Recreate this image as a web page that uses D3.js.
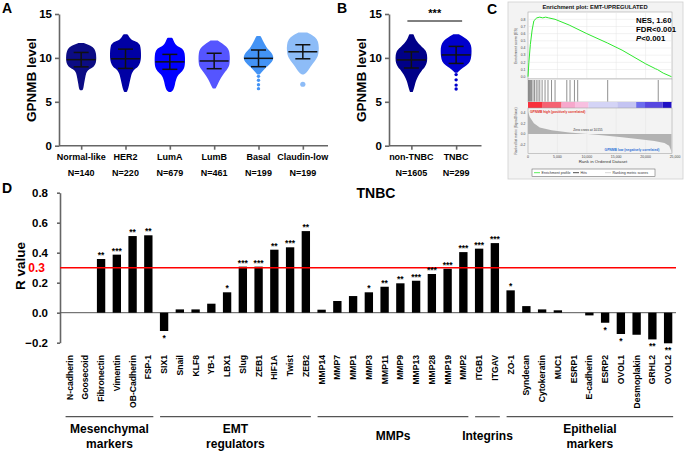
<!DOCTYPE html>
<html>
<head>
<meta charset="utf-8">
<script src="https://cdn.jsdelivr.net/npm/d3@7"></script>
<style>
body { margin: 0; background: #fff; }
svg { display: block; font-family: "Liberation Sans", Arial, Helvetica, sans-serif; }
</style>
</head>
<body>
<svg id="fig" width="685" height="454"></svg>
<script>
// ---- panel A: GPNMB by PAM50 subtype ----
var subtypes = ["Normal-like", "HER2", "LumA", "LumB", "Basal", "Claudin-low"];
var subtypeN = [140, 220, 679, 461, 199, 199];
var subtypeMean = [9.8, 9.9, 9.55, 9.65, 9.95, 10.7];
var subtypeSD = [0.82, 1.1, 0.85, 0.88, 0.95, 0.8];
// [GPNMB level, relative density]
var subtypeProfiles = [
    [[11.6,0.15],[11.3,0.6],[11.0,0.8],[10.5,0.88],[10.0,0.9],[9.5,0.88],[9.1,0.8],[8.8,0.5],[8.5,0.3],[8.0,0.22],[7.5,0.18],[7.0,0.12],[6.6,0.1],[6.4,0.05]],
    [[12.6,0.1],[12.3,0.2],[12.0,0.3],[11.7,0.8],[11.2,0.9],[10.5,0.92],[10.0,0.92],[9.5,0.88],[9.0,0.75],[8.7,0.45],[8.2,0.33],[7.6,0.25],[7.0,0.18],[6.5,0.12],[6.2,0.05]],
    [[12.2,0.12],[11.8,0.22],[11.3,0.35],[11.0,0.8],[10.5,0.88],[10.0,0.9],[9.5,0.9],[9.0,0.88],[8.5,0.75],[8.2,0.5],[7.8,0.38],[7.3,0.3],[6.8,0.25],[6.4,0.18],[6.2,0.05]],
    [[11.9,0.2],[11.6,0.45],[11.2,0.75],[10.8,0.9],[10.2,0.93],[9.5,0.93],[9.0,0.88],[8.6,0.7],[8.1,0.5],[7.6,0.32],[7.2,0.22],[6.8,0.12],[6.6,0.05]],
    [[12.4,0.1],[12.0,0.2],[11.5,0.35],[11.0,0.5],[10.6,0.75],[10.2,0.88],[9.8,0.88],[9.4,0.7],[9.0,0.45],[8.7,0.3],[8.4,0.15],[8.2,0.05]],
    [[12.8,0.25],[12.5,0.6],[12.1,0.85],[11.5,0.95],[10.8,0.95],[10.2,0.9],[9.7,0.72],[9.2,0.5],[8.8,0.35],[8.4,0.2],[8.2,0.05]]
];
var subtypeOutliers = [[], [], [], [], [7.9, 7.45, 6.95, 6.5], [7.0]];
var subtypeColors = ["#0c0c84", "#0000a4", "#0000ff", "#5555ff", "#4393f5", "#8dbcf7"];

// ---- panel B: non-TNBC vs TNBC ----
var tnbcGroups = ["non-TNBC", "TNBC"];
var tnbcN = [1605, 299];
var tnbcMean = [9.77, 10.34];
var tnbcSD = [0.92, 0.97];
var tnbcProfiles = [
    [[12.6,0.1],[12.2,0.18],[11.8,0.3],[11.4,0.5],[11.0,0.75],[10.6,0.92],[10.0,0.95],[9.4,0.92],[9.0,0.8],[8.6,0.6],[8.2,0.45],[7.7,0.3],[7.2,0.2],[6.7,0.14],[6.2,0.05]],
    [[12.6,0.15],[12.3,0.45],[11.9,0.75],[11.4,0.9],[10.8,0.92],[10.2,0.9],[9.6,0.85],[9.2,0.6],[8.9,0.35],[8.6,0.15],[8.4,0.05]]
];
var tnbcOutliers = [[], [8.1, 7.5, 6.9, 6.45]];
var tnbcColors = ["#000088", "#0000cc"];

// ---- panel C: GSEA ----
var esCurve = [[0,0],[150,0.2],[400,0.45],[700,0.65],[1000,0.78],[1500,0.82],[2000,0.83],[2500,0.82],[3000,0.83],[3500,0.82],[4600,0.8],[7000,0.72],[10000,0.6],[13500,0.47],[16000,0.37],[20000,0.18],[21700,0.11],[22000,0.1],[23000,0.05],[24400,0]];
var hitRanks = [100, 250, 420, 600, 850, 1100, 1400, 1700, 2000, 2400, 2900, 3400, 4000, 4600, 6600, 7150, 7900, 8450, 13550, 22150];
var metricCurve = [[0,0.42],[300,0.32],[1000,0.2],[2000,0.12],[4000,0.07],[7000,0.03],[10155,0],[13000,-0.03],[16000,-0.06],[19000,-0.1],[21500,-0.13],[23200,-0.17],[24000,-0.22],[24300,-0.3],[24400,-0.36]];
var barEdges = [0, 2500, 5700, 8000, 10300, 15200, 18400, 19900, 22900, 24400];
var barColors = ["#f8303c", "#f56272", "#f7a8cc", "#f8c0e0", "#d4d4f6", "#c4c4f2", "#6c6cee", "#5848e0", "#2010c4"];
var rankTicks = [0, 5000, 10000, 15000, 20000, 25000];
var esTicks = [0, 0.1, 0.2, 0.3, 0.4, 0.5, 0.6, 0.7, 0.8];
var metricTicks = [0.4, 0.2, 0, -0.2];

// ---- panel D: correlation with EMT genes in TNBC ----
var genes = ["N-cadherin","Goosecoid","Fibronectin","Vimentin","OB-Cadherin","FSP-1",
    "SIX1","Snail","KLF8","YB-1","LBX1","Slug","ZEB1","HIF1A","Twist","ZEB2",
    "MMP14","MMP7","MMP1","MMP3","MMP11","MMP9","MMP13","MMP28","MMP19","MMP2",
    "ITGB1","ITGAV",
    "ZO-1","Syndecan","Cytokeratin","MUC1","ESRP1","E-cadherin","ESRP2","OVOL1","Desmoplakin","GRHL2","OVOL2"];
var rValues = [0, 0, 0.358, 0.387, 0.511, 0.516,
    -0.122, 0.022, 0.022, 0.06, 0.136, 0.307, 0.307, 0.42, 0.436, 0.544,
    0.02, 0.078, 0.111, 0.136, 0.173, 0.196, 0.213, 0.258, 0.293, 0.404,
    0.427, 0.464,
    0.149, 0.044, 0.022, 0.016, 0, -0.018, -0.067, -0.142, -0.147, -0.178, -0.204];
var stars = ["", "", "**", "***", "**", "**",
    "*", "", "", "", "*", "***", "***", "**", "***", "**",
    "", "", "", "*", "**", "**", "***", "***", "***", "***",
    "***", "***",
    "*", "", "", "", "", "", "*", "*", "", "**", "**"];
var geneGroups = [
    {lines: ["Mesenchymal", "markers"], first: "N-cadherin", last: "FSP-1"},
    {lines: ["EMT", "regulators"], first: "SIX1", last: "ZEB2"},
    {lines: ["MMPs"], first: "MMP14", last: "MMP2"},
    {lines: ["Integrins"], first: "ITGB1", last: "ITGAV"},
    {lines: ["Epithelial", "markers"], first: "ZO-1", last: "OVOL2"}
];
var rTicks = [-0.2, 0, 0.2, 0.4, 0.6, 0.8];
var threshold = 0.3;

var svg = d3.select("#fig");
var axisGrey = "#666";

function panelLetter(txt, x, y) {
    svg.append("text").attr("x", x).attr("y", y).attr("font-size", 14)
        .attr("font-weight", "bold").text(txt);
}

function styleAxis(g) {
    g.selectAll("path, line").attr("stroke", axisGrey).attr("stroke-width", 1.6);
    g.selectAll("text").attr("fill", "#000").attr("font-weight", "bold")
        .attr("font-family", "Liberation Sans, Arial, sans-serif");
}

function drawSwarmPanel(cats, counts, means, sds, profiles, outliers, colors, x0, x1) {
    var x = d3.scalePoint().domain(cats).range([x0, x1]).padding(0.5);
    var y = d3.scaleLinear().domain([0, 15]).range([145.7, 14]);
    var w = d3.scaleLinear().domain([0, 1]).range([0, 16]);

    var yAxis = svg.append("g").attr("transform", "translate(" + x0 + ",0)")
        .call(d3.axisLeft(y).tickValues([0, 5, 10, 15]).tickSize(4).tickSizeOuter(0).tickPadding(3));
    styleAxis(yAxis);
    yAxis.selectAll("text").attr("font-size", 11.5);

    var xAxis = svg.append("g").attr("transform", "translate(0," + y(0) + ")")
        .call(d3.axisBottom(x).tickSize(4).tickFormat(""));
    xAxis.select(".domain").remove();
    styleAxis(xAxis);
    svg.append("line").attr("x1", x0).attr("x2", x1 + 3).attr("y1", y(0)).attr("y2", y(0))
        .attr("stroke", axisGrey).attr("stroke-width", 1.6);

    cats.forEach(function(c, i) {
        var cx = x(c);
        var area = d3.area().curve(d3.curveBasis)
            .y(function(d) { return y(d[0]); })
            .x0(function(d) { return cx - w(d[1]); })
            .x1(function(d) { return cx + w(d[1]); });
        svg.append("path").attr("d", area(profiles[i]))
            .attr("fill", colors[i]).attr("stroke", colors[i])
            .attr("stroke-width", 1.6).attr("stroke-linejoin", "round");
        svg.selectAll(null).data(outliers[i]).enter().append("circle")
            .attr("cx", cx).attr("cy", function(d) { return y(d); })
            .attr("r", outliers[i].length == 1 ? 2.6 : 1.7)
            .attr("fill", colors[i]);

        var g = svg.append("g").attr("stroke", "#111").attr("stroke-width", 1.5);
        g.append("line").attr("x1", cx - 14.5).attr("x2", cx + 14.5)
            .attr("y1", y(means[i])).attr("y2", y(means[i]));
        g.append("line").attr("x1", cx).attr("x2", cx)
            .attr("y1", y(means[i] - sds[i])).attr("y2", y(means[i] + sds[i]));
        [means[i] - sds[i], means[i] + sds[i]].forEach(function(v) {
            g.append("line").attr("x1", cx - 7.5).attr("x2", cx + 7.5)
                .attr("y1", y(v)).attr("y2", y(v));
        });

        svg.append("text").attr("x", cx).attr("y", 160).attr("text-anchor", "middle")
            .attr("font-size", 9).attr("font-weight", "bold").text(c);
        svg.append("text").attr("x", cx).attr("y", 175.5).attr("text-anchor", "middle")
            .attr("font-size", 9).attr("font-weight", "bold").text("N=" + counts[i]);
    });

    svg.append("text").attr("transform", "translate(" + (x0 - 23) + ",80) rotate(-90)")
        .attr("text-anchor", "middle").attr("font-size", 13.5).attr("font-weight", "bold")
        .text("GPNMB level");
    return {x: x, y: y};
}

// ---- A ----
panelLetter("A", 2, 13);
drawSwarmPanel(subtypes, subtypeN, subtypeMean, subtypeSD, subtypeProfiles, subtypeOutliers, subtypeColors, 59, 325);

// ---- B ----
panelLetter("B", 337, 13);
var pB = drawSwarmPanel(tnbcGroups, tnbcN, tnbcMean, tnbcSD, tnbcProfiles, tnbcOutliers, tnbcColors, 389, 478.5);
svg.append("line").attr("x1", pB.x("non-TNBC") - 4).attr("x2", pB.x("TNBC") + 6)
    .attr("y1", 21).attr("y2", 21).attr("stroke", "#000").attr("stroke-width", 1);
svg.append("text").attr("x", (pB.x("non-TNBC") + pB.x("TNBC")) / 2 + 1).attr("y", 16.5)
    .attr("text-anchor", "middle").attr("font-size", 11).attr("font-weight", "bold").text("***");

// ---- C ----
panelLetter("C", 487, 14);
var cg = svg.append("g");
cg.append("rect").attr("x", 508).attr("y", 2).attr("width", 175).attr("height", 177)
    .attr("fill", "#f3f3f3").attr("stroke", "#cfcfcf").attr("stroke-width", 0.8);
var xr = d3.scaleLinear().domain([0, 25000]).range([528, 675]);
var yes = d3.scaleLinear().domain([0, 0.8]).range([76.7, 19.3]);
var ym = d3.scaleLinear().domain([0, 0.2]).range([134, 123.3]);
var plotL = 528, plotR = 672;

cg.append("text").attr("x", 595).attr("y", 8.5).attr("text-anchor", "middle")
    .attr("font-size", 5.8).attr("font-weight", "bold").attr("fill", "#111")
    .text("Enrichment plot: EMT-UPREGULATED");

// ES panel
cg.append("rect").attr("x", plotL).attr("y", 12).attr("width", plotR - plotL).attr("height", 67)
    .attr("fill", "#fff").attr("stroke", "#999").attr("stroke-width", 0.5);
esTicks.forEach(function(t) {
    if (t > 0) cg.append("line").attr("x1", plotL).attr("x2", plotR).attr("y1", yes(t)).attr("y2", yes(t))
        .attr("stroke", "#e4e4e4").attr("stroke-width", 0.5);
    cg.append("text").attr("x", 525.5).attr("y", yes(t) + 1.2).attr("text-anchor", "end")
        .attr("font-size", 3.4).attr("fill", "#444").text(t.toFixed(1));
});
rankTicks.slice(1, 5).forEach(function(t) {
    [[12, 79], [108, 153.3]].forEach(function(r) {
        cg.append("line").attr("x1", xr(t)).attr("x2", xr(t)).attr("y1", r[0]).attr("y2", r[1])
            .attr("stroke", "#e4e4e4").attr("stroke-width", 0.5);
    });
});
cg.append("path").datum(esCurve)
    .attr("d", d3.line().x(function(d) { return xr(d[0]); }).y(function(d) { return yes(d[1]); }))
    .attr("fill", "none").attr("stroke", "#2ee82e").attr("stroke-width", 1);
cg.append("text").attr("transform", "translate(516.5,46) rotate(-90)").attr("text-anchor", "middle")
    .attr("font-size", 3.6).attr("fill", "#444").text("Enrichment score (ES)");

// hits
cg.append("rect").attr("x", plotL).attr("y", 79).attr("width", plotR - plotL).attr("height", 23)
    .attr("fill", "#fff").attr("stroke", "#999").attr("stroke-width", 0.5);
cg.selectAll(null).data(hitRanks).enter().append("line")
    .attr("x1", function(d) { return xr(d); }).attr("x2", function(d) { return xr(d); })
    .attr("y1", 80).attr("y2", 101.5).attr("stroke", "#222").attr("stroke-width", 0.5);

// colour bar
cg.selectAll(null).data(barColors).enter().append("rect")
    .attr("x", function(d, i) { return xr(barEdges[i]); })
    .attr("width", function(d, i) { return xr(barEdges[i + 1]) - xr(barEdges[i]); })
    .attr("y", 102).attr("height", 6).attr("fill", function(d) { return d; });

// ranked metric
cg.append("rect").attr("x", plotL).attr("y", 108).attr("width", plotR - plotL).attr("height", 45.3)
    .attr("fill", "none").attr("stroke", "#999").attr("stroke-width", 0.5);
cg.append("path").datum(metricCurve)
    .attr("d", d3.area().x(function(d) { return xr(d[0]); }).y0(ym(0)).y1(function(d) { return ym(d[1]); }))
    .attr("fill", "#b2b2b2");
metricTicks.forEach(function(t) {
    cg.append("text").attr("x", 525.5).attr("y", ym(t) + 1.2).attr("text-anchor", "end")
        .attr("font-size", 3.4).attr("fill", "#444").text(t.toFixed(1));
});
cg.append("text").attr("x", 530).attr("y", 112.5).attr("font-size", 3.3).attr("fill", "#e0302a")
    .attr("font-weight", "bold").text("GPNMB high (positively correlated)");
cg.append("text").attr("x", 588).attr("y", 130.5).attr("text-anchor", "middle").attr("font-size", 3.3)
    .attr("fill", "#333").text("Zero cross at 10155");
cg.append("text").attr("x", 632).attr("y", 150.5).attr("text-anchor", "middle").attr("font-size", 3.3)
    .attr("fill", "#2a6fd6").attr("font-weight", "bold").text("GPNMB low (negatively correlated)");
cg.append("text").attr("transform", "translate(516.5,131) rotate(-90)").attr("text-anchor", "middle")
    .attr("font-size", 3.2).attr("fill", "#444").text("Ranked list metric (Signal2Noise)");
rankTicks.forEach(function(t) {
    cg.append("text").attr("x", xr(t)).attr("y", 157.8).attr("text-anchor", "middle")
        .attr("font-size", 3.5).attr("fill", "#444").text(d3.format(",")(t));
});
cg.append("text").attr("x", 603).attr("y", 163).attr("text-anchor", "middle")
    .attr("font-size", 4.4).attr("fill", "#333").text("Rank in Ordered Dataset");

// legend
cg.append("rect").attr("x", 532).attr("y", 169).attr("width", 123).attr("height", 7.5)
    .attr("fill", "#fff").attr("stroke", "#555").attr("stroke-width", 0.5);
[["#2ee82e", 534, "Enrichment profile"], ["#222", 573, "Hits"], ["#ccc", 605, "Ranking metric scores"]]
    .forEach(function(it) {
        cg.append("line").attr("x1", it[1]).attr("x2", it[1] + 6).attr("y1", 172.7).attr("y2", 172.7)
            .attr("stroke", it[0]).attr("stroke-width", 0.8);
        cg.append("text").attr("x", it[1] + 7.5).attr("y", 174).attr("font-size", 3.6)
            .attr("fill", "#333").text(it[2]);
    });

cg.append("text").attr("x", 636).attr("y", 22.7).attr("font-size", 7.8).attr("font-weight", "bold")
    .text("NES, 1.60");
cg.append("text").attr("x", 636).attr("y", 32).attr("font-size", 7.8).attr("font-weight", "bold")
    .text("FDR<0.001");
var pt = cg.append("text").attr("x", 636).attr("y", 41.2).attr("font-size", 7.8).attr("font-weight", "bold");
pt.append("tspan").attr("font-style", "italic").text("P");
pt.append("tspan").text("<0.001");

// ---- D ----
panelLetter("D", 2, 193);
var xD = d3.scaleBand().domain(genes).range([61.7, 676]).paddingInner(0.47).paddingOuter(0.235);
var yD = d3.scaleLinear().domain([-0.2, 0.8]).range([342.7, 192.7]);

var dAxis = svg.append("g").attr("transform", "translate(60,0)")
    .call(d3.axisLeft(yD).tickValues(rTicks).tickFormat(d3.format(".1f")).tickSize(3).tickSizeOuter(0).tickPadding(9));
styleAxis(dAxis);
dAxis.selectAll("text").attr("font-size", 11.5);

svg.append("text").attr("transform", "translate(25,266) rotate(-90)").attr("text-anchor", "middle")
    .attr("font-size", 13.5).attr("font-weight", "bold").text("R value");
svg.append("text").attr("x", 45).attr("y", yD(threshold) + 4.5).attr("text-anchor", "end")
    .attr("font-size", 12).attr("font-weight", "bold").attr("fill", "#ff0000").text("0.3");
svg.append("text").attr("x", 376).attr("y", 198).attr("text-anchor", "middle")
    .attr("font-size", 14).attr("font-weight", "bold").text("TNBC");

svg.append("line").attr("x1", 60).attr("x2", 676).attr("y1", yD(0)).attr("y2", yD(0))
    .attr("stroke", "#555").attr("stroke-width", 1);

svg.selectAll(".bar").data(genes).enter().append("rect").attr("class", "bar")
    .attr("x", function(d) { return xD(d); })
    .attr("width", xD.bandwidth())
    .attr("y", function(d, i) { return yD(Math.max(0, rValues[i])); })
    .attr("height", function(d, i) { return Math.abs(yD(rValues[i]) - yD(0)); })
    .attr("fill", "#000");

svg.append("line").attr("x1", 60).attr("x2", 676).attr("y1", yD(threshold)).attr("y2", yD(threshold))
    .attr("stroke", "#ff0000").attr("stroke-width", 1.5);

svg.selectAll(".star").data(genes).enter().append("text").attr("class", "star")
    .attr("x", function(d) { return xD(d) + xD.bandwidth() / 2; })
    .attr("y", function(d, i) { return rValues[i] >= 0 ? yD(rValues[i]) - 1 : yD(rValues[i]) + 10; })
    .attr("text-anchor", "middle").attr("font-size", 8.5).attr("font-weight", "bold")
    .text(function(d, i) { return stars[i]; });

svg.selectAll(".glabel").data(genes).enter().append("text").attr("class", "glabel")
    .attr("transform", function(d) { return "translate(" + (xD(d) + xD.bandwidth() / 2) + ",355) rotate(-90)"; })
    .attr("dy", "0.35em").attr("text-anchor", "end")
    .attr("font-size", 8.6).attr("font-weight", "bold").text(function(d) { return d; });

geneGroups.forEach(function(g) {
    var a = xD(g.first) + xD.bandwidth() / 2 - 4;
    var b = xD(g.last) + xD.bandwidth() / 2 + 5;
    svg.append("line").attr("x1", a).attr("x2", b).attr("y1", 416.7).attr("y2", 416.7)
        .attr("stroke", "#555").attr("stroke-width", 1.2);
    var base = g.lines.length == 1 ? 439.5 : 433;
    g.lines.forEach(function(t, k) {
        svg.append("text").attr("x", (a + b) / 2).attr("y", base + k * 15)
            .attr("text-anchor", "middle").attr("font-size", 12).attr("font-weight", "bold").text(t);
    });
});
</script>
</body>
</html>
